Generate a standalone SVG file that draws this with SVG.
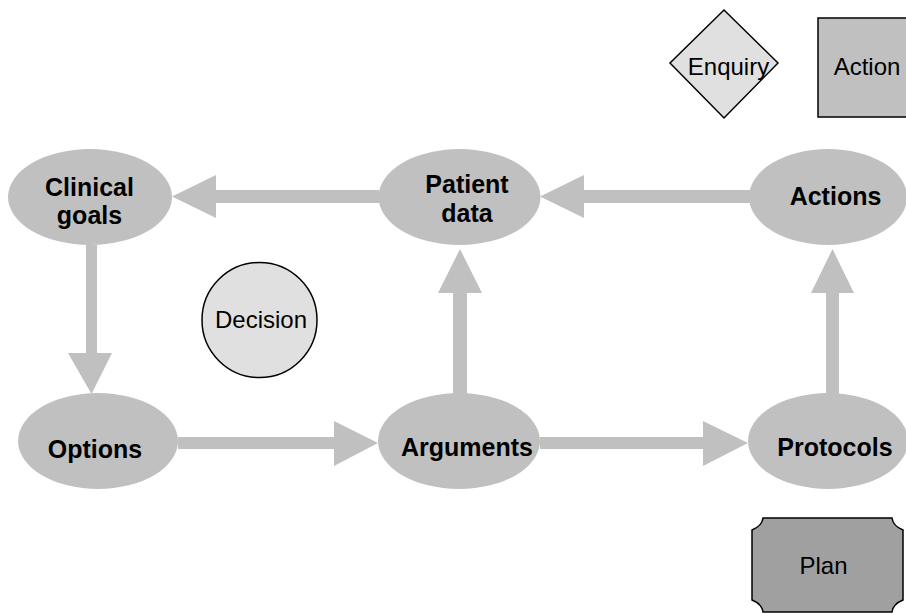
<svg xmlns="http://www.w3.org/2000/svg" width="906" height="614" viewBox="0 0 906 614">
<style>
.node{fill:#c0c0c0;stroke:none}
.arrow{fill:#c0c0c0;stroke:none}
.lbl{font-family:"Liberation Sans",Arial,sans-serif;font-weight:bold;font-size:25px;fill:#000;text-anchor:middle}
.leg{font-family:"Liberation Sans",Arial,sans-serif;font-size:24px;fill:#000;text-anchor:middle}
.box{stroke:#000;stroke-width:1.5}
</style>
<rect width="906" height="614" fill="#fff"/>
<g id="connectors">
<polygon class="arrow" points="379,190 216,190 216,175 172,196.5 216,218 216,203 379,203"/>
<polygon class="arrow" points="750,190 584,190 584,175 540,196.5 584,218 584,203 750,203"/>
<polygon class="arrow" points="86,245 86,353 68,353 91.5,394 112,353 97,353 97,245"/>
<polygon class="arrow" points="453,395 453,293 438,293 460,249 482,293 467,293 467,395"/>
<polygon class="arrow" points="826,395 826,293 811,293 832.5,249 854,293 839,293 839,395"/>
<polygon class="arrow" points="178,437 334,437 334,421 378,443 334,466 334,449 178,449"/>
<polygon class="arrow" points="540,437 703,437 703,421 748,443 703,466 703,449 540,449"/>
</g>
<g id="clinical-goals">
<ellipse class="node" cx="90" cy="197" rx="82" ry="48"/>
<text class="lbl" x="89.5" y="196">Clinical</text>
<text class="lbl" x="89.5" y="224">goals</text>
</g>
<g id="patient-data">
<ellipse class="node" cx="459.5" cy="197" rx="81" ry="48"/>
<text class="lbl" x="467" y="193">Patient</text>
<text class="lbl" x="467" y="222">data</text>
</g>
<g id="actions">
<ellipse class="node" cx="828" cy="197" rx="79" ry="48"/>
<text class="lbl" x="835.5" y="205">Actions</text>
</g>
<g id="options">
<ellipse class="node" cx="98" cy="441" rx="80" ry="48"/>
<text class="lbl" x="95" y="458">Options</text>
</g>
<g id="arguments">
<ellipse class="node" cx="459" cy="441" rx="81" ry="48"/>
<text class="lbl" x="467" y="456">Arguments</text>
</g>
<g id="protocols">
<ellipse class="node" cx="828" cy="441" rx="80" ry="48"/>
<text class="lbl" x="835" y="456">Protocols</text>
</g>
<g id="enquiry">
<polygon class="box" fill="#e0e0e0" points="724,10 778,63 724,118 670,63"/>
<text class="leg" x="728.5" y="75">Enquiry</text>
</g>
<g id="action">
<rect class="box" fill="#c0c0c0" x="818" y="18" width="95" height="99"/>
<text class="leg" x="867" y="75">Action</text>
</g>
<g id="decision">
<circle class="box" fill="#e0e0e0" cx="259.5" cy="320" r="57.5"/>
<text class="leg" x="261" y="328">Decision</text>
</g>
<g id="plan">
<path class="box" fill="#a0a0a0" d="M763,518 L892,518 Q893,526 903,530 L903,600 Q893,604 892,612 L763,612 Q762,604 752,600 L752,530 Q762,526 763,518 Z"/>
<text class="leg" x="823.5" y="574">Plan</text>
</g>
</svg>
